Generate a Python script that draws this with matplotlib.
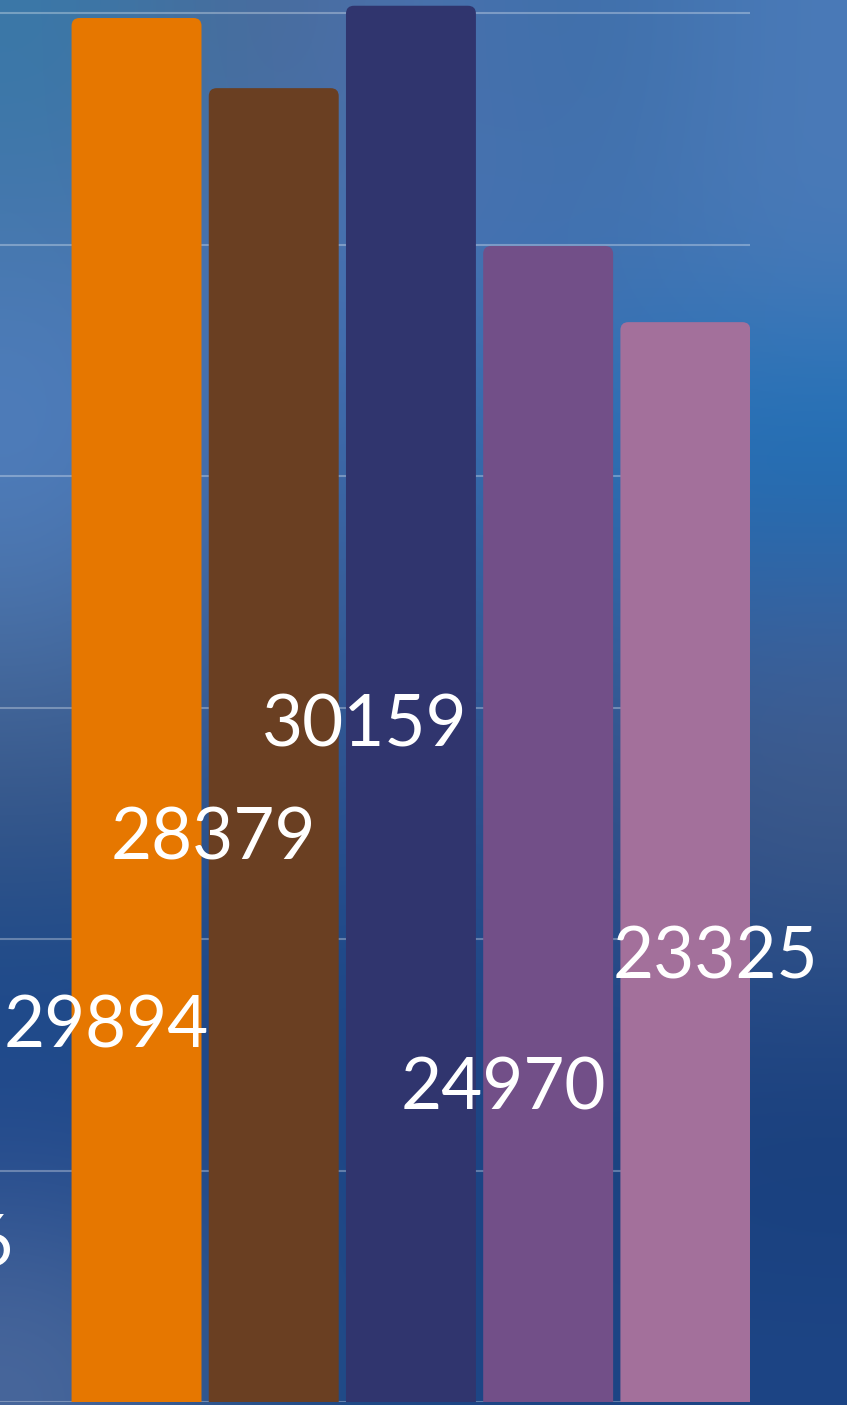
import numpy as np
import matplotlib
matplotlib.use("Agg")
import matplotlib.pyplot as plt
from matplotlib.colors import to_rgb
from matplotlib.patches import FancyBboxPatch

# ---------- data ----------
categories = ["A", "B", "C", "D", "E"]
values = [29894, 28379, 30159, 24970, 23325]
colors = ["#e67700", "#6a3f22", "#30356e", "#724f88", "#a3709b"]
cut_label = "6"          # tail of a label from the cropped-off left part

# label anchors (x offset from bar centre, y in data units) – layout only
label_dx = [-0.22, -0.44, -0.34, -0.33, 0.22]
label_y = [8100, 12150, 14600, 6750, 9600]

# blurred backdrop, coarse colour grid (rows top->bottom)
BG = [
    ["#3a78a8", "#4a6a98", "#4a72b0", "#3d6ea8", "#4a7ab8"],
    ["#4a78b0", "#4570b0", "#4a74b4", "#4272b0", "#4a7ab8"],
    ["#5080c0", "#3f68a8", "#3a68a8", "#2a70b8", "#1a70b8"],
    ["#4a72a8", "#3a5e98", "#335c98", "#2f62a0", "#3a62a0"],
    ["#3a5888", "#2f5590", "#2a5090", "#344f88", "#3f5a88"],
    ["#1d4a8a", "#1d4888", "#1d4888", "#25498a", "#2a4e88"],
    ["#22498c", "#1f4686", "#1d4585", "#1a4280", "#183e7c"],
    ["#4a689c", "#24508a", "#1d4585", "#1d4585", "#1d4585"],
]

W, H = 847, 1405
fig = plt.figure(figsize=(W / 100, H / 100), dpi=100)

bg = fig.add_axes([0, 0, 1, 1], zorder=0)
img = np.array([[to_rgb(c) for c in row] for row in BG])
bg.imshow(img, extent=(0, 1, 0, 1), aspect="auto", interpolation="bicubic")
bg.axis("off")

ax = fig.add_axes([0, 3 / H, 750 / W, 1402 / H], zorder=1)
ax.patch.set_alpha(0)
x = np.arange(len(categories))
ax.set_xlim(-0.995, 4.471)
ax.set_ylim(0, 30283)

for gy in range(0, 30001, 5000):
    ax.axhline(gy, color="white", alpha=0.3, lw=1.5, zorder=1)

bars = ax.bar(x, values, width=0.947, color=colors, zorder=2)
rx = 8 / 137.2          # corner radius in x data units (~8 px)
ry = 8 * 21.6           # same radius in y data units
for b in bars:
    b.set_visible(False)
    p = FancyBboxPatch((b.get_x(), -2 * ry), b.get_width(), b.get_height() + 2 * ry,
                       boxstyle=f"round,pad=0,rounding_size={rx}",
                       mutation_aspect=ry / rx, fc=b.get_facecolor(),
                       ec="none", zorder=2)
    ax.add_patch(p)

font = dict(family=["Lato", "DejaVu Sans"], fontweight="normal",
            fontsize=51, color="white", ha="center", va="center", zorder=3)
for xi, v, dx, ly in zip(x, values, label_dx, label_y):
    ax.text(xi + dx, ly, f"{v}", **font)
ax.text(-1.053, 3400, cut_label, clip_on=False, **font)

ax.axis("off")
fig.savefig("out.png", dpi=100)
